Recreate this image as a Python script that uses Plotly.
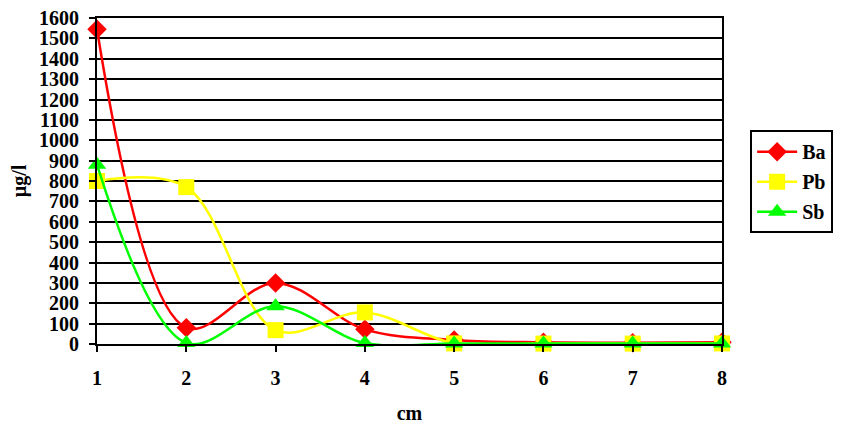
import plotly.graph_objects as go

x_cm = [1, 2, 3, 4, 5, 6, 7, 8]
ba = [1545, 80, 300, 72, 20, 8, 6, 8]
pb = [800, 770, 68, 155, 3, 2, 2, 3]
sb = [880, 5, 185, 5, 3, 3, 3, 3]

FONT = "Liberation Serif, Times New Roman, serif"
FS = 20

fig = go.Figure()
series = [
    ("Ba", ba, "#FF0000", "diamond", 15),
    ("Pb", pb, "#FFFF00", "square", 16),
    ("Sb", sb, "#00FF00", "triangle-up", 16),
]
for name, vals, col, sym, sz in series:
    fig.add_trace(go.Scatter(
        x=x_cm, y=vals, name=name, mode="lines+markers", legendgroup=name,
        line=dict(color=col, width=2.5, shape="spline", smoothing=1.0),
        marker=dict(color=col, symbol=sym, size=sz, line=dict(width=0)),
        cliponaxis=False,
    ))

# page body adds ~8px offset; figure sized to compensate
fig.update_layout(
    width=838, height=419,
    margin=dict(l=89, r=124, t=10, b=83, autoexpand=False),
    paper_bgcolor="white", plot_bgcolor="white",
    font=dict(family=FONT, size=FS, color="black", weight="bold"),
    legend=dict(
        x=1.045, y=0.656, xanchor="left", yanchor="top",
        bordercolor="black", borderwidth=2,
        font=dict(family=FONT, size=FS, color="black", weight="bold"),
        itemwidth=40, tracegroupgap=1, traceorder="grouped",
    ),
    showlegend=True,
)
fig.update_xaxes(
    range=[1, 8], tickmode="array", tickvals=x_cm, ticktext=[str(v) for v in x_cm],
    showgrid=False, zeroline=False, automargin=False,
    showline=True, linecolor="black", linewidth=2, mirror=True,
    ticks="outside", ticklen=6, tickwidth=2, tickcolor="black",
    ticklabelstandoff=9,
    title=dict(text="cm", standoff=18, font=dict(family=FONT, size=FS, weight="bold")),
)
fig.update_yaxes(
    range=[0, 1600], dtick=100, tick0=0,
    showgrid=True, gridcolor="black", gridwidth=2,
    zeroline=False, automargin=False,
    showline=True, linecolor="black", linewidth=2, mirror=True,
    ticks="outside", ticklen=6, tickwidth=2, tickcolor="black",
    ticklabelstandoff=6, ticklabeloverflow="allow",
    title=dict(text="µg/l", standoff=21, font=dict(family=FONT, size=FS, weight="bold")),
)

fig.write_html("out.html")
